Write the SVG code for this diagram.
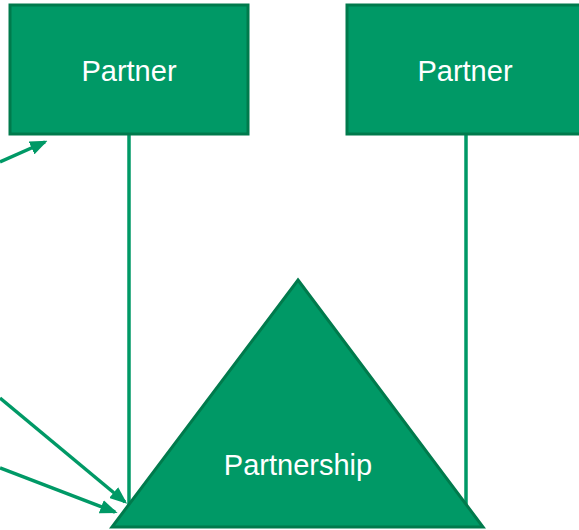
<svg xmlns="http://www.w3.org/2000/svg" width="579" height="530" viewBox="0 0 579 530">
<defs>
<style>
.box{fill:#009966;stroke:#007a4c;stroke-width:3}
.lbl{font-family:"Liberation Sans",Arial,sans-serif;font-size:29px;fill:#ffffff;text-anchor:middle}
.conn{stroke:#009966;stroke-width:3.5;fill:none}
.arr{stroke:#009966;stroke-width:3.5;fill:none;marker-end:url(#ah)}
</style>
<marker id="ah" markerWidth="5" markerHeight="4" refX="4.2" refY="2" orient="auto" markerUnits="strokeWidth">
<path d="M0,0 L5,2 L0,4 z" fill="#009966"/>
</marker>
</defs>
<g id="connectors">
<line class="conn" x1="129" y1="134" x2="129" y2="506"/>
<line class="conn" x1="466" y1="134" x2="466" y2="506"/>
<line class="arr" x1="0" y1="162" x2="45" y2="142"/>
<line class="arr" x1="0" y1="398" x2="125" y2="502"/>
<line class="arr" x1="0" y1="468" x2="115" y2="512"/>
</g>
<g id="partner1">
<rect class="box" x="10" y="5" width="238" height="129"/>
<text class="lbl" x="129" y="81">Partner</text>
</g>
<g id="partner2">
<rect class="box" x="347" y="5" width="240" height="129"/>
<text class="lbl" x="465" y="81">Partner</text>
</g>
<g id="partnership">
<polygon class="box" points="298,280 483,527 112,527"/>
<text class="lbl" x="298" y="475">Partnership</text>
</g>
</svg>
